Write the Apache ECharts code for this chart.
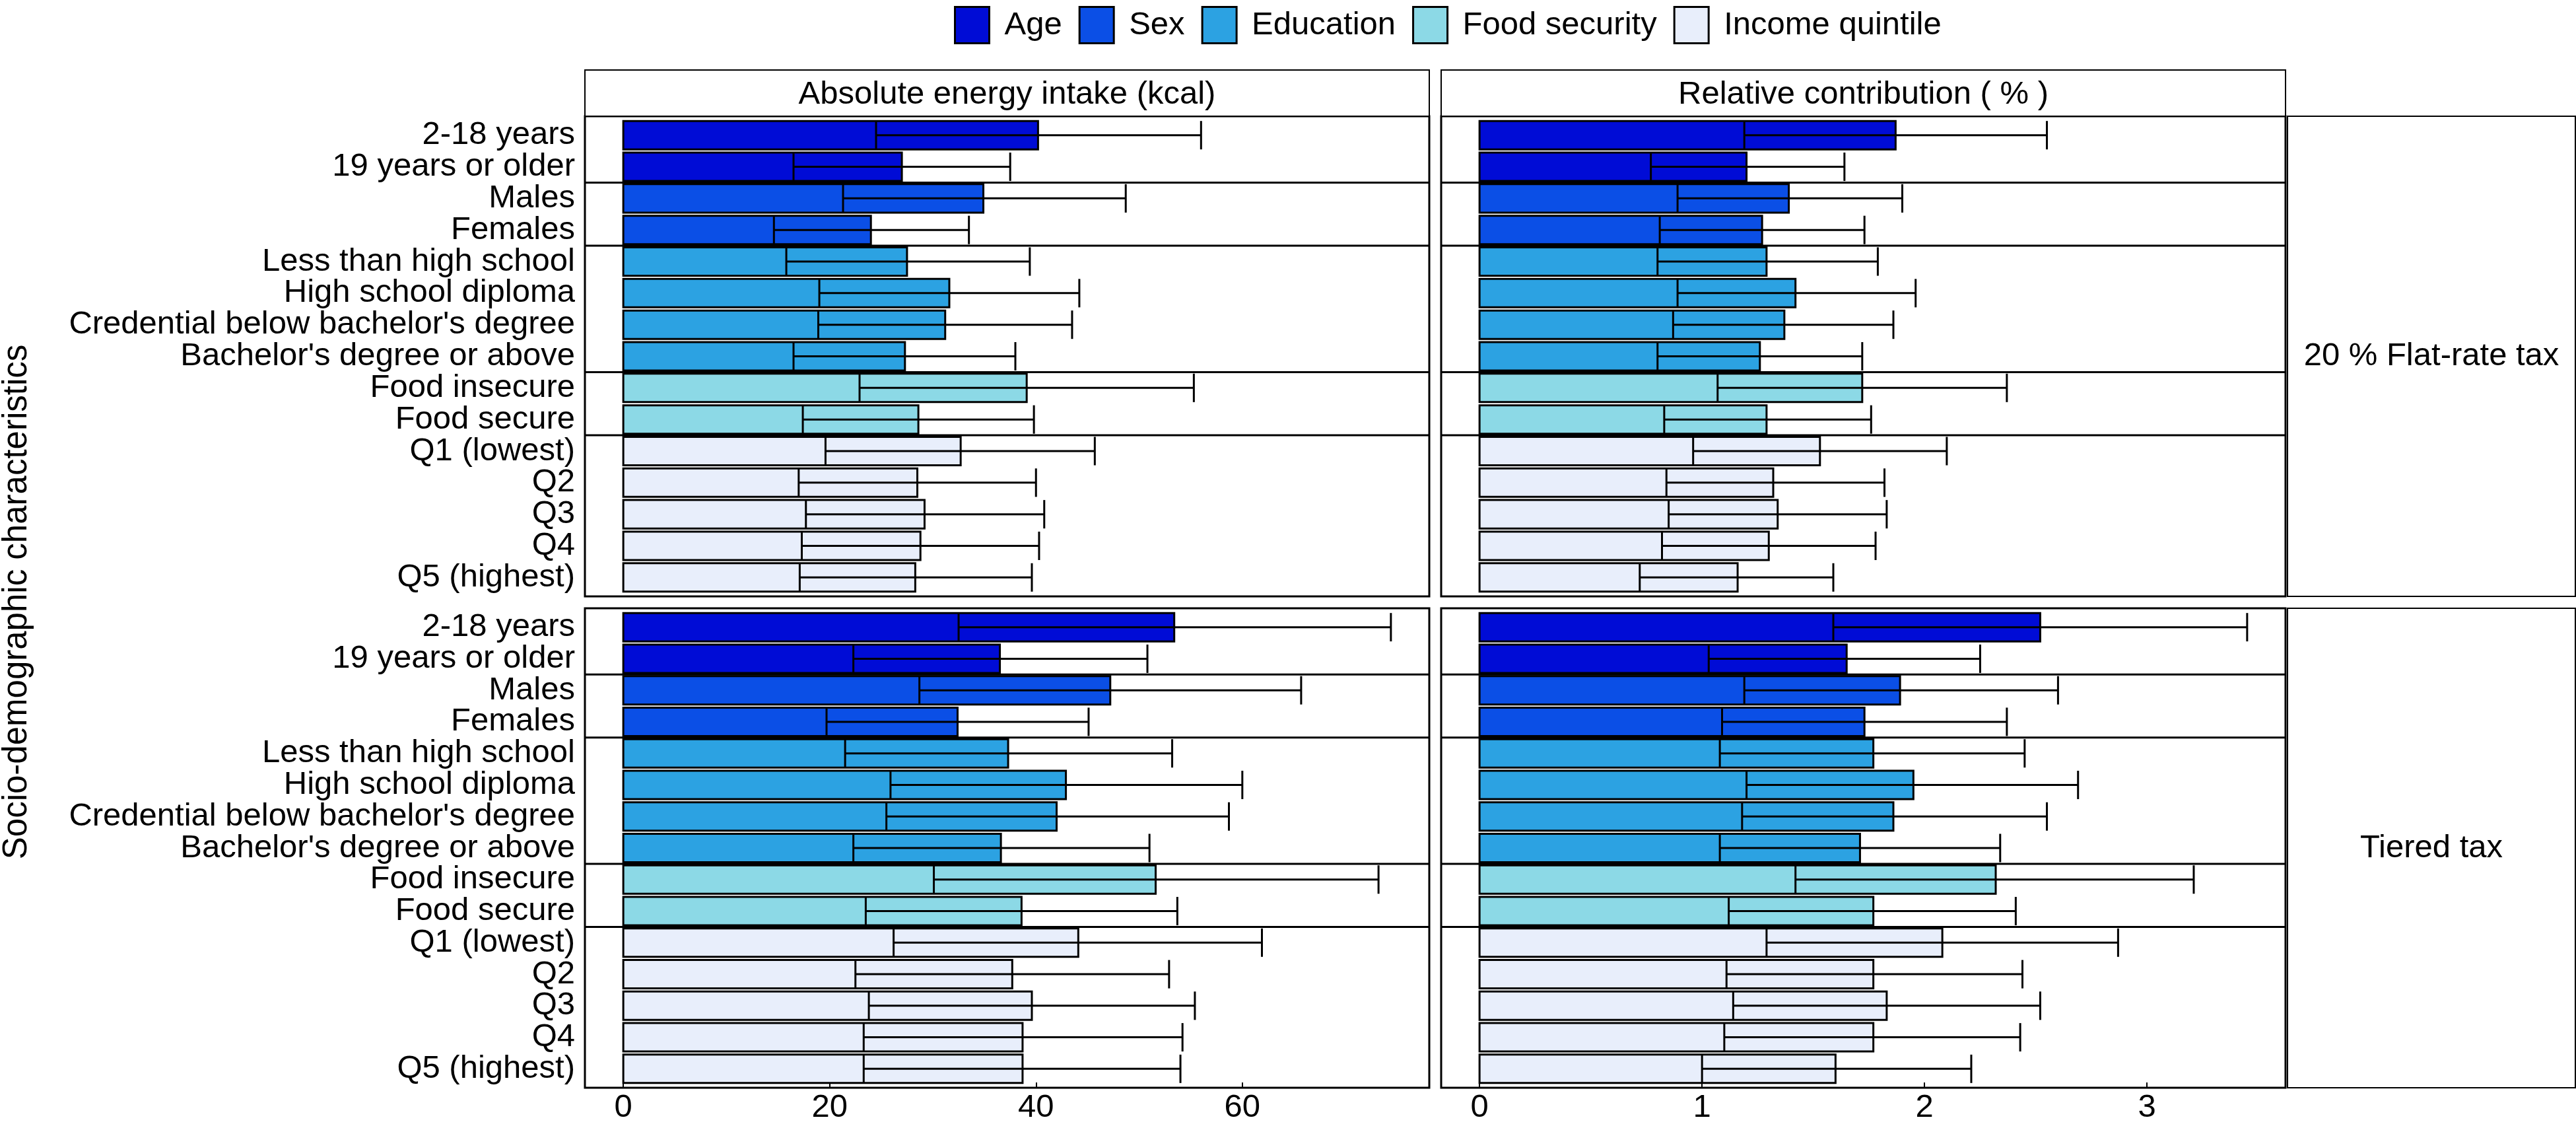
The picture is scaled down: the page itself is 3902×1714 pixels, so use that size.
<!DOCTYPE html>
<html><head><meta charset="utf-8">
<script src="https://cdn.jsdelivr.net/npm/echarts@6/dist/echarts.min.js"></script>
<style>html,body{margin:0;padding:0;background:#fff}#c{width:3902px;height:1714px}</style>
</head><body><div id="c"></div>
<script>
const categories = ['2-18 years','19 years or older','Males','Females','Less than high school','High school diploma',"Credential below bachelor's degree","Bachelor's degree or above",'Food insecure','Food secure','Q1 (lowest)','Q2','Q3','Q4','Q5 (highest)'];
const groups = ['Age','Sex','Education','Food security','Income quintile'];
const groupIndex = [0,0,1,1,2,2,2,2,3,3,4,4,4,4,4];
const groupColors = ['#000CD6','#0B4FE6','#2CA2E2','#8CD9E6','#E8EEFB'];

const flatAbsMean = [40.2,27.0,34.9,24.0,27.5,31.6,31.2,27.3,39.1,28.6,32.7,28.5,29.2,28.8,28.3];
const flatAbsLow  = [24.5,16.5,21.3,14.6,15.8,19.0,18.9,16.5,22.9,17.4,19.6,17.0,17.7,17.3,17.1];
const flatAbsHigh = [56.0,37.5,48.7,33.5,39.4,44.2,43.5,38.0,55.3,39.8,45.7,40.0,40.8,40.3,39.6];
const flatRelMean = [1.87,1.20,1.39,1.27,1.29,1.42,1.37,1.26,1.72,1.29,1.53,1.32,1.34,1.30,1.16];
const flatRelLow  = [1.19,0.77,0.89,0.81,0.80,0.89,0.87,0.80,1.07,0.83,0.96,0.84,0.85,0.82,0.72];
const flatRelHigh = [2.55,1.64,1.90,1.73,1.79,1.96,1.86,1.72,2.37,1.76,2.10,1.82,1.83,1.78,1.59];
const tieredAbsMean = [53.4,36.5,47.2,32.4,37.3,42.9,42.0,36.6,51.6,38.6,44.1,37.7,39.6,38.7,38.7];
const tieredAbsLow  = [32.5,22.3,28.7,19.7,21.5,25.9,25.5,22.3,30.1,23.5,26.2,22.5,23.8,23.3,23.3];
const tieredAbsHigh = [74.4,50.8,65.7,45.1,53.2,60.0,58.7,51.0,73.2,53.7,61.9,52.9,55.4,54.2,54.0];
const tieredRelMean = [2.52,1.65,1.89,1.73,1.77,1.95,1.86,1.71,2.32,1.77,2.08,1.77,1.83,1.77,1.60];
const tieredRelLow  = [1.59,1.03,1.19,1.09,1.08,1.20,1.18,1.08,1.42,1.12,1.29,1.11,1.14,1.10,1.00];
const tieredRelHigh = [3.45,2.25,2.60,2.37,2.45,2.69,2.55,2.34,3.21,2.41,2.87,2.44,2.52,2.43,2.21];

const absTicks = [0,20,40,60];
const relTicks = [0,1,2,3];
const panelTitles = ['Absolute energy intake (kcal)','Relative contribution ( % )'];
const rowTitles = ['20 % Flat-rate tax','Tiered tax'];
const yTitle = 'Socio-demographic characteristics';

// ---------- layout ----------
const FONT = '"Liberation Sans", Arial, Helvetica, sans-serif';
const FS = 49;
const colLeft = [886, 2183], colWidth = 1279;
const rowTop = [176, 921], rowHeight = [727, 726];
const stripTop = 106;
const rowStripLeft = 3465, rowStripRight = 3901;

const absMax = Math.max(...flatAbsHigh, ...tieredAbsHigh);
const relMax = Math.max(...flatRelHigh, ...tieredRelHigh);
const ranges = [[-0.05*absMax, 1.05*absMax], [-0.05*relMax, 1.05*relMax]];
const ticks = [absTicks, relTicks];

const panels = [
  {row:0, col:0, mean:flatAbsMean, low:flatAbsLow, high:flatAbsHigh},
  {row:0, col:1, mean:flatRelMean, low:flatRelLow, high:flatRelHigh},
  {row:1, col:0, mean:tieredAbsMean, low:tieredAbsLow, high:tieredAbsHigh},
  {row:1, col:1, mean:tieredRelMean, low:tieredRelLow, high:tieredRelHigh}
];

const separators = [];
for (let i = 1; i < groupIndex.length; i++) if (groupIndex[i] !== groupIndex[i-1]) separators.push(i - 0.5);
const catIdx = categories.map((_, i) => i);
// labels split over two coincident axes so neighbouring labels never get auto-hidden
const evenIdx = catIdx.filter(i => i % 2 === 0), oddIdx = catIdx.filter(i => i % 2 === 1);

function yAxisDef(k, showLabels, values) {
  return {type:'value', gridIndex:k, position:'left', inverse:true, min:-0.6, max:categories.length - 0.4,
    splitLine:{show:false}, axisLine:{show:false, onZero:false}, axisTick:{show:false},
    axisLabel:{show:showLabels, customValues: values, formatter: v => categories[Math.round(v)] || '',
      showMinLabel:true, showMaxLabel:true, hideOverlap:false,
      fontSize:FS, fontFamily:FONT, color:'#000', margin:15}};
}

const grids = [], xAxes = [], yAxes = [], series = [];
panels.forEach((p, k) => {
  grids.push({left: colLeft[p.col], top: rowTop[p.row], width: colWidth, height: rowHeight[p.row],
    show: true, borderColor: '#000', borderWidth: 3, backgroundColor: '#fff', containLabel: false});
  const bottom = p.row === 1;
  xAxes.push({type:'value', gridIndex:k, position:'bottom', min: ranges[p.col][0], max: ranges[p.col][1],
    splitLine:{show:false}, axisLine:{show:false, onZero:false},
    axisTick:{show:bottom, inside:true, length:8, customValues: ticks[p.col], lineStyle:{color:'#000', width:2}},
    axisLabel:{show:bottom, customValues: ticks[p.col], fontSize:FS, fontFamily:FONT, color:'#000', margin:6,
      showMinLabel:true, showMaxLabel:true, hideOverlap:false}});
  const left = p.col === 0;
  const yi = yAxes.length;
  yAxes.push(yAxisDef(k, left, evenIdx));
  if (left) yAxes.push(yAxisDef(k, true, oddIdx));
  // group separators
  series.push({type:'custom', xAxisIndex:k, yAxisIndex:yi, silent:true, z:1,
    data: separators.map(s => [0, s]), encode:{x:0, y:1},
    renderItem: (params, api) => {
      const cs = params.coordSys; const c = api.coord([0, api.value(1)]);
      return {type:'line', shape:{x1:cs.x, y1:c[1], x2:cs.x+cs.width, y2:c[1]}, style:{stroke:'#000', lineWidth:3}};
    }});
  groups.forEach((g, gi) => {
    const data = [];
    catIdx.forEach(i => { if (groupIndex[i] === gi) data.push([p.mean[i], p.low[i], p.high[i], i]); });
    const color = groupColors[gi];
    series.push({type:'custom', name:g, xAxisIndex:k, yAxisIndex:yi, z:2,
      itemStyle:{color:color, borderColor:'#000', borderWidth:3},
      encode:{x:[0,1,2], y:3}, data:data,
      renderItem: (params, api) => {
        const m = api.value(0), lo = api.value(1), hi = api.value(2), y = api.value(3);
        const a = api.coord([0, y - 0.45]), b = api.coord([m, y + 0.45]);
        const top = Math.min(a[1], b[1]), h = Math.abs(b[1] - a[1]);
        const pl = api.coord([lo, y]), ph = api.coord([hi, y]);
        return {type:'group', children:[
          {type:'rect', shape:{x:a[0], y:top, width:b[0]-a[0], height:h}, style:{fill:color, stroke:'#000', lineWidth:3}},
          {type:'line', shape:{x1:pl[0], y1:top, x2:pl[0], y2:top+h}, style:{stroke:'#000', lineWidth:3}},
          {type:'line', shape:{x1:ph[0], y1:top, x2:ph[0], y2:top+h}, style:{stroke:'#000', lineWidth:3}},
          {type:'line', shape:{x1:pl[0], y1:pl[1], x2:ph[0], y2:ph[1]}, style:{stroke:'#000', lineWidth:3}}
        ]};
      }});
  });
});

function txt(text, x, y, rot, fs) {
  return {type:'text', x:x, y:y, rotation: rot || 0, z:10,
    style:{text:text, fill:'#000', fontSize:fs || FS, fontFamily:FONT, align:'center', verticalAlign:'middle',
      textAlign:'center', textVerticalAlign:'middle'}};
}
const graphic = [];
[0,1].forEach(c => {
  graphic.push({type:'rect', shape:{x:colLeft[c], y:stripTop, width:colWidth, height:rowTop[0]-stripTop},
    style:{fill:'#fff', stroke:'#000', lineWidth:2}, z:5});
  graphic.push(txt(panelTitles[c], colLeft[c] + colWidth/2, (stripTop + rowTop[0])/2 + 2));
});
[0,1].forEach(r => {
  graphic.push({type:'rect', shape:{x:rowStripLeft, y:rowTop[r], width:rowStripRight-rowStripLeft, height:rowHeight[r]},
    style:{fill:'#fff', stroke:'#000', lineWidth:2}, z:5});
  graphic.push(txt(rowTitles[r], (rowStripLeft+rowStripRight)/2, rowTop[r] + rowHeight[r]/2));
});
graphic.push(txt(yTitle, 26, (rowTop[0] + rowTop[1] + rowHeight[1]) / 2, Math.PI/2, 51));

const chart = echarts.init(document.getElementById('c'), null, {renderer:'canvas'});
chart.setOption({
  backgroundColor:'#fff',
  animation:false,
  textStyle:{fontFamily:FONT},
  legend:{left:1440, top:4, itemWidth:52, itemHeight:55, itemGap:25,
    textStyle:{fontSize:FS, fontFamily:FONT, color:'#000', padding:[0,0,0,18]},
    data: groups.map((g, gi) => ({name:g, icon:'rect',
      itemStyle:{color:groupColors[gi], borderColor:'#000', borderWidth:3}}))},
  grid: grids, xAxis: xAxes, yAxis: yAxes, series: series, graphic: graphic
});
</script></body></html>
